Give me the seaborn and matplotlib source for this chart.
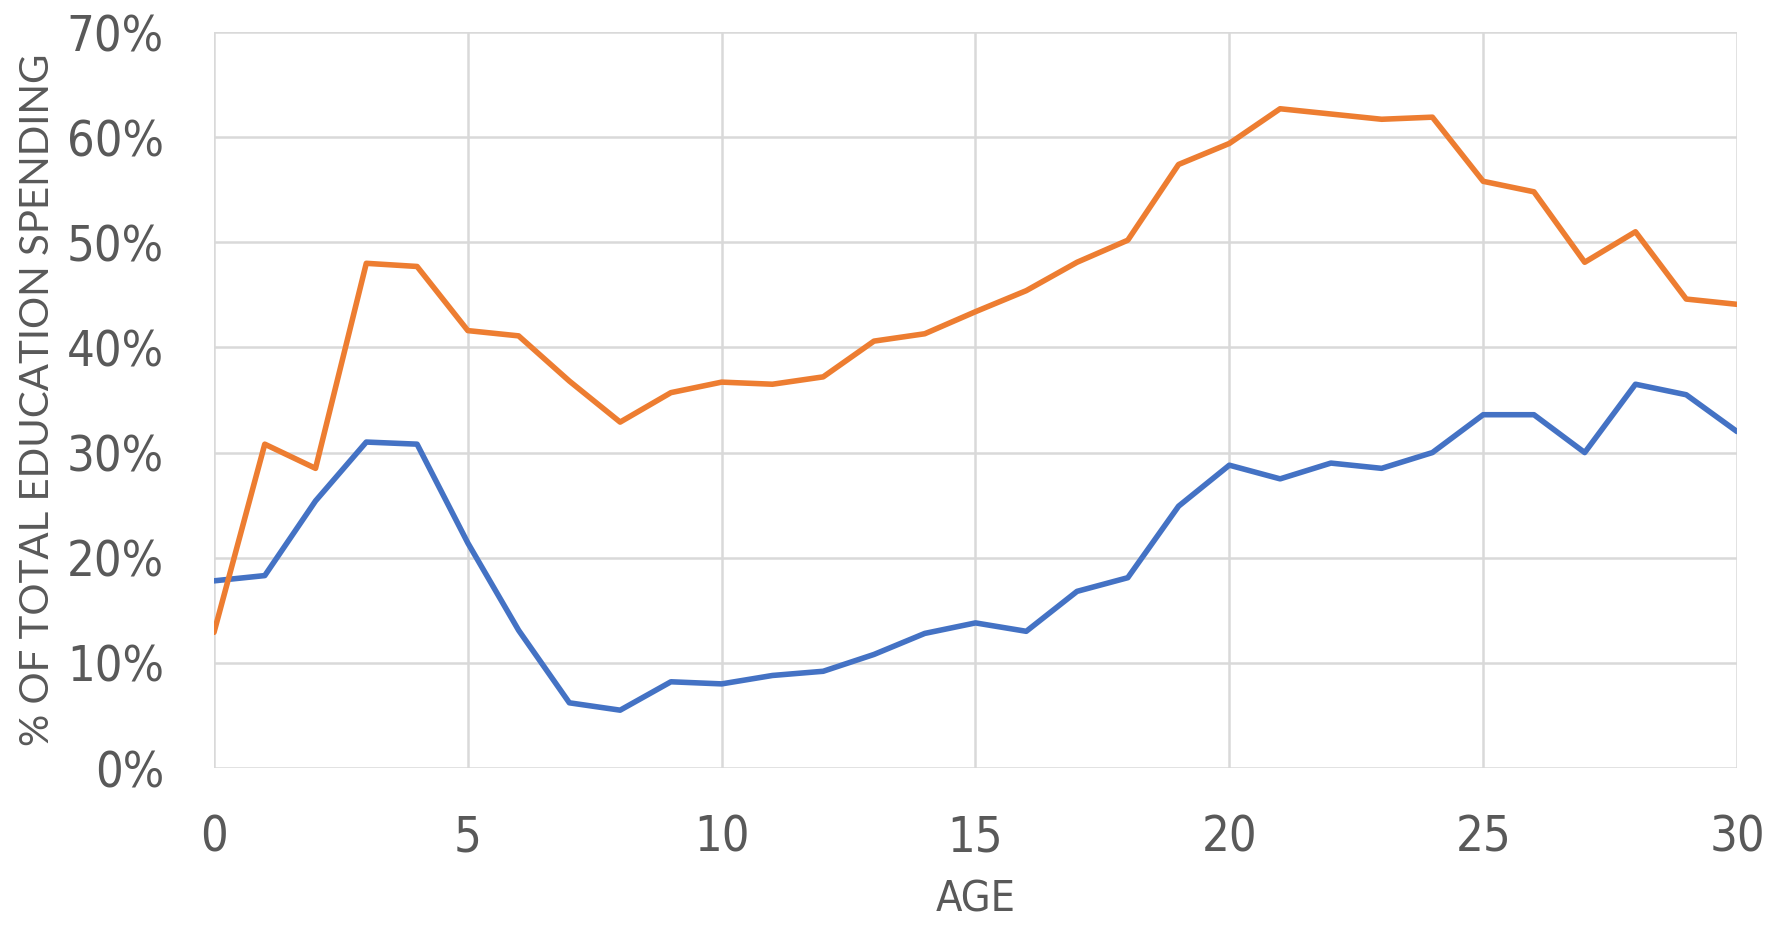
"""
Share of total education spending by age - two series line chart
"""
import pandas as pd
import numpy as np
import matplotlib
matplotlib.use('Agg')
import matplotlib.pyplot as plt
import seaborn as sns
from matplotlib.ticker import FuncFormatter

# data (percent)
ages = list(range(0, 31))
blue_share = [17.8, 18.3, 25.4, 31.0, 30.8, 21.4, 13.1, 6.2, 5.5, 8.2, 8.0,
              8.8, 9.2, 10.8, 12.8, 13.8, 13.0, 16.8, 18.1, 24.9, 28.8,
              27.5, 29.0, 28.5, 30.0, 33.6, 33.6, 30.0, 36.5, 35.5, 32.0]
orange_share = [12.9, 30.8, 28.5, 48.0, 47.7, 41.6, 41.1, 36.8, 32.9, 35.7, 36.7,
                36.5, 37.2, 40.6, 41.3, 43.4, 45.4, 48.1, 50.2, 57.4, 59.4,
                62.7, 62.2, 61.7, 61.9, 55.8, 54.8, 48.1, 51.0, 44.6, 44.1]
series_names = ['Series 1', 'Series 2']
series_colors = ['#4472C4', '#ED7D31']

x_ticks = [0, 5, 10, 15, 20, 25, 30]
y_ticks = [0, 10, 20, 30, 40, 50, 60, 70]
x_label = 'AGE'
y_label = '% OF TOTAL EDUCATION SPENDING'

df = pd.DataFrame({
    'age': ages * 2,
    'share': blue_share + orange_share,
    'series': [series_names[0]] * len(ages) + [series_names[1]] * len(ages),
})

sns.set_style('whitegrid', {'grid.color': '#d9d9d9'})
plt.rcParams['font.family'] = ['DejaVu Sans']
plt.rcParams['font.stretch'] = 'condensed'

fig = plt.figure(figsize=(17.74, 9.30), dpi=100)
ax = fig.add_axes([214 / 1774, 1 - 768 / 930, (1737 - 214) / 1774, (768 - 32) / 930])

sns.lineplot(data=df, x='age', y='share', hue='series', palette=series_colors,
             linewidth=4, legend=False, ax=ax)

ax.set_xlim(0, 30)
ax.set_ylim(0, 70)
ax.set_xticks(x_ticks)
ax.set_yticks(y_ticks)
ax.yaxis.set_major_formatter(FuncFormatter(lambda v, p: f'{v:.0f}%'))
ax.grid(True, color='#d9d9d9', linewidth=1.8)
for s in ax.spines.values():
    s.set_visible(False)

ax.tick_params(axis='both', length=0, labelsize=35, labelcolor='#595959')
for lbl in ax.get_xticklabels() + ax.get_yticklabels():
    lbl.set_fontstretch('condensed')
ax.tick_params(axis='x', pad=33)
ax.tick_params(axis='y', pad=36)

ax.set_xlabel(x_label, fontsize=31, color='#595959', labelpad=12)
ax.set_ylabel(y_label, fontsize=29, color='#595959', labelpad=8,
              family=['Lato', 'DejaVu Sans'], fontstretch='normal')

plt.savefig('out.png', dpi=100)
plt.close()
